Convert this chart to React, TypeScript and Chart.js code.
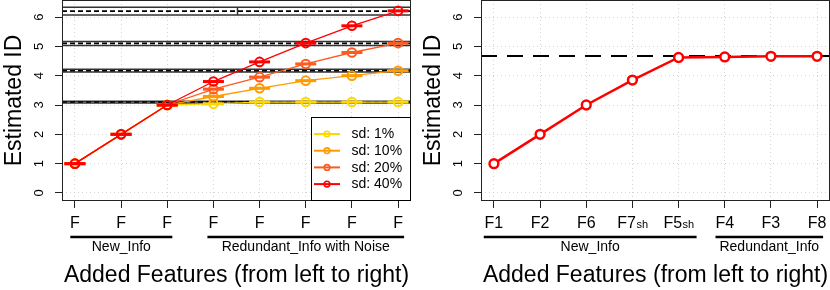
import React, { useEffect, useRef } from 'react';
import { Chart, registerables } from 'chart.js';

Chart.register(...registerables);

// ---------- data ----------
const xPositions = [1, 2, 3, 4, 5, 6, 7, 8];
const yTicks = [0, 1, 2, 3, 4, 5, 6];

const leftTickMain = ['F', 'F', 'F', 'F', 'F', 'F', 'F', 'F'];
const leftTickSub = ['', '', '', '', '', '', '', ''];

const sd1 = [1, 2, 3, 3.04, 3.1, 3.1, 3.1, 3.1];
const sd10 = [1, 2, 3, 3.29, 3.57, 3.83, 4.0, 4.17];
const sd20 = [1, 2, 3, 3.54, 3.95, 4.4, 4.79, 5.11];
const sd40 = [1, 2, 3, 3.8, 4.47, 5.11, 5.7, 6.21];
const seriesLabels = ['sd: 1%', 'sd: 10%', 'sd: 20%', 'sd: 40%'];
const seriesColors = ['#FFD700', '#FF9A00', '#FF5A1E', '#FF0000'];

const bandCenters = [6.2, 5.1, 4.17, 3.1];
const bandHalfWidths = [0.13, 0.068, 0.045, 0.03];
const bandSplit = 4.5;

const rightTickMain = ['F1', 'F2', 'F6', 'F7', 'F5', 'F4', 'F3', 'F8'];
const rightTickSub = ['', '', '', 'sh', 'sh', '', '', ''];
const rightValues = [1, 2, 3, 3.85, 4.62, 4.64, 4.66, 4.66];
const rightReference = 4.67;

const leftGroupLabels = ['New_Info', 'Redundant_Info with Noise'];
const leftGroupFrom = [0.9, 3.87];
const leftGroupTo = [3.11, 8.13];
const rightGroupLabels = ['New_Info', 'Redundant_Info'];
const rightGroupFrom = [0.78, 5.8];
const rightGroupTo = [5.39, 8.13];

const yTitle = 'Estimated ID';
const xTitle = 'Added Features (from left to right)';

// ---------- layout / style ----------
const X_MIN = 0.72;
const X_MAX = 8.28;
const Y_MIN = -0.273;
const Y_MAX = 6.58;
const FONT = '"Liberation Sans", Arial, Helvetica, sans-serif';

const pts = (vals: number[]) => vals.map((v, i) => ({ x: xPositions[i], y: v }));

function makePlugin(opts: any) {
  return {
    id: 'rdeco_' + opts.id,
    beforeDatasetsDraw(chart: any) {
      if (!opts.bands) return;
      const { ctx, chartArea } = chart;
      const xs = chart.scales.x;
      const ys = chart.scales.y;
      ctx.save();
      ctx.beginPath();
      ctx.rect(chartArea.left, chartArea.top, chartArea.right - chartArea.left, chartArea.bottom - chartArea.top);
      ctx.clip();
      const xl = xs.getPixelForValue(X_MIN);
      const xr = xs.getPixelForValue(X_MAX);
      const xm = Math.round(xs.getPixelForValue(bandSplit)) + 0.5;
      bandCenters.forEach((c, i) => {
        const lo = ys.getPixelForValue(c - bandHalfWidths[i]);
        const hi = ys.getPixelForValue(c + bandHalfWidths[i]);
        const mid = ys.getPixelForValue(c);
        ctx.strokeStyle = '#333';
        ctx.lineWidth = 1.5;
        ctx.setLineDash([]);
        ctx.beginPath();
        ctx.moveTo(xl, lo); ctx.lineTo(xr, lo);
        ctx.moveTo(xl, hi); ctx.lineTo(xr, hi);
        ctx.moveTo(xm, lo); ctx.lineTo(xm, hi);
        ctx.stroke();
        ctx.strokeStyle = '#000';
        ctx.lineWidth = 1.6;
        ctx.setLineDash([5, 3]);
        ctx.beginPath();
        ctx.moveTo(xl, mid); ctx.lineTo(xr, mid);
        ctx.stroke();
      });
      ctx.restore();
    },
    afterDraw(chart: any) {
      const { ctx, chartArea } = chart;
      const xs = chart.scales.x;
      const ys = chart.scales.y;
      ctx.save();
      ctx.setLineDash([]);
      // box
      ctx.strokeStyle = '#222';
      ctx.lineWidth = 1;
      ctx.strokeRect(chartArea.left + 0.5, chartArea.top + 0.5, chartArea.right - chartArea.left - 1, chartArea.bottom - chartArea.top - 1);

      ctx.fillStyle = '#000';
      // y tick labels (rotated)
      ctx.font = '13px ' + FONT;
      ctx.textAlign = 'center';
      ctx.textBaseline = 'alphabetic';
      yTicks.forEach((v) => {
        const py = ys.getPixelForValue(v);
        ctx.save();
        ctx.translate(43, py);
        ctx.rotate(-Math.PI / 2);
        ctx.fillText(String(v), 0, 0);
        ctx.restore();
      });
      // y title
      ctx.save();
      ctx.font = '23px ' + FONT;
      ctx.translate(21, (chartArea.top + chartArea.bottom) / 2);
      ctx.rotate(-Math.PI / 2);
      ctx.fillText(yTitle, 0, 0);
      ctx.restore();

      // x tick labels
      ctx.textAlign = 'left';
      xPositions.forEach((v, i) => {
        const px = xs.getPixelForValue(v);
        const main = opts.tickMain[i];
        const sub = opts.tickSub[i];
        ctx.font = '16px ' + FONT;
        const wm = ctx.measureText(main).width;
        ctx.font = '11px ' + FONT;
        const ws = sub ? ctx.measureText(sub).width : 0;
        const start = px - (wm + ws) / 2;
        ctx.font = '16px ' + FONT;
        ctx.fillText(main, start, 228);
        if (sub) {
          ctx.font = '11px ' + FONT;
          ctx.fillText(sub, start + wm + 0.5, 228);
        }
      });

      // group lines and labels
      ctx.textAlign = 'center';
      ctx.font = '14px ' + FONT;
      opts.groupLabels.forEach((lab: string, i: number) => {
        const a = xs.getPixelForValue(opts.groupFrom[i]);
        const b = xs.getPixelForValue(opts.groupTo[i]);
        ctx.strokeStyle = '#000';
        ctx.lineWidth = 2.6;
        ctx.beginPath();
        ctx.moveTo(a, 237);
        ctx.lineTo(b, 237);
        ctx.stroke();
        ctx.fillText(lab, (a + b) / 2, 251);
      });

      // x title
      ctx.font = '23px ' + FONT;
      ctx.fillText(xTitle, (chartArea.left + chartArea.right) / 2, 282);

      // legend
      if (opts.legend) {
        const lx = 311.5;
        const ly = 117.5;
        const rx = chartArea.right - 0.5;
        const by = chartArea.bottom - 0.5;
        ctx.fillStyle = '#fff';
        ctx.fillRect(lx, ly, rx - lx, by - ly);
        ctx.strokeStyle = '#000';
        ctx.lineWidth = 1;
        ctx.strokeRect(lx, ly, rx - lx, by - ly);
        ctx.textAlign = 'left';
        ctx.textBaseline = 'middle';
        ctx.font = '14px ' + FONT;
        seriesLabels.forEach((lab, i) => {
          const yy = 134 + i * 16.7;
          ctx.strokeStyle = seriesColors[i];
          ctx.lineWidth = 2;
          ctx.beginPath();
          ctx.moveTo(314, yy);
          ctx.lineTo(340, yy);
          ctx.stroke();
          ctx.lineWidth = 1.6;
          ctx.beginPath();
          ctx.arc(327, yy, 2.8, 0, Math.PI * 2);
          ctx.stroke();
          ctx.fillStyle = '#000';
          ctx.fillText(lab, 351.5, yy + 0.5);
        });
      }
      ctx.restore();
    },
  };
}

function baseOptions(rightPad: number) {
  const grid = {
    color: '#d3d3d3',
    lineWidth: 1,
    tickColor: '#222',
    tickLength: 7,
    tickWidth: 1,
    tickBorderDash: [],
  };
  const border = { display: false, dash: [1, 3] };
  return {
    responsive: false,
    maintainAspectRatio: false,
    animation: false,
    devicePixelRatio: 1,
    events: [],
    layout: { autoPadding: false, padding: { top: 0, right: rightPad, bottom: 0, left: 0 } },
    plugins: { legend: { display: false }, tooltip: { enabled: false } },
    scales: {
      x: {
        type: 'linear',
        min: X_MIN,
        max: X_MAX,
        afterBuildTicks: (s: any) => { s.ticks = xPositions.map((v) => ({ value: v })); },
        afterFit: (s: any) => { s.height = 89; },
        ticks: { display: false },
        grid,
        border,
      },
      y: {
        type: 'linear',
        min: Y_MIN,
        max: Y_MAX,
        afterBuildTicks: (s: any) => { s.ticks = yTicks.map((v) => ({ value: v })); },
        afterFit: (s: any) => { s.width = 62; },
        ticks: { display: false },
        grid,
        border,
      },
    },
  };
}

function leftConfig(): any {
  const series = [sd40, sd20, sd10, sd1];
  const colors = [seriesColors[3], seriesColors[2], seriesColors[1], seriesColors[0]];
  const datasets: any[] = [];
  series.forEach((vals, i) => {
    datasets.push({
      data: pts(vals),
      borderColor: colors[i],
      borderWidth: 1.3,
      pointRadius: 4.3,
      pointBorderWidth: 2,
      pointBorderColor: colors[i],
      pointBackgroundColor: 'rgba(255,255,255,0)',
      pointStyle: 'circle',
      tension: 0,
      clip: 0,
    });
    datasets.push({
      data: pts(vals),
      showLine: false,
      pointStyle: 'line',
      pointRadius: 10.5,
      pointBorderWidth: 3,
      pointBorderColor: colors[i],
      borderColor: colors[i],
      clip: 0,
    });
  });
  return {
    type: 'line',
    data: { datasets },
    options: baseOptions(8),
    plugins: [
      makePlugin({
        id: 'left',
        bands: true,
        legend: true,
        tickMain: leftTickMain,
        tickSub: leftTickSub,
        groupLabels: leftGroupLabels,
        groupFrom: leftGroupFrom,
        groupTo: leftGroupTo,
      }),
    ],
  };
}

function rightConfig(): any {
  return {
    type: 'line',
    data: {
      datasets: [
        {
          data: pts(rightValues),
          borderColor: '#FF0000',
          borderWidth: 2.5,
          pointRadius: 4.4,
          pointBorderWidth: 2.5,
          pointBorderColor: '#FF0000',
          pointBackgroundColor: '#FFFFFF',
          tension: 0,
          clip: 0,
        },
        {
          data: [
            { x: X_MIN, y: rightReference },
            { x: X_MAX, y: rightReference },
          ],
          borderColor: '#000',
          borderWidth: 2,
          borderDash: [16, 10],
          pointRadius: 0,
        },
      ],
    },
    options: baseOptions(0),
    plugins: [
      makePlugin({
        id: 'right',
        bands: false,
        legend: false,
        tickMain: rightTickMain,
        tickSub: rightTickSub,
        groupLabels: rightGroupLabels,
        groupFrom: rightGroupFrom,
        groupTo: rightGroupTo,
      }),
    ],
  };
}

function Panel({ make, width, left }: { make: () => any; width: number; left: number }) {
  const ref = useRef<HTMLCanvasElement>(null);
  useEffect(() => {
    const chart = new Chart(ref.current as HTMLCanvasElement, make());
    return () => chart.destroy();
  }, []);
  return (
    <canvas
      ref={ref}
      width={width}
      height={290}
      style={{ position: 'absolute', left, top: 0, width, height: 290, display: 'block' }}
    />
  );
}

export default function App() {
  return (
    <div style={{ position: 'absolute', left: 0, top: 0, width: 830, height: 290, background: '#fff', overflow: 'hidden' }}>
      <Panel make={leftConfig} width={419} left={0} />
      <Panel make={rightConfig} width={411} left={419} />
    </div>
  );
}
